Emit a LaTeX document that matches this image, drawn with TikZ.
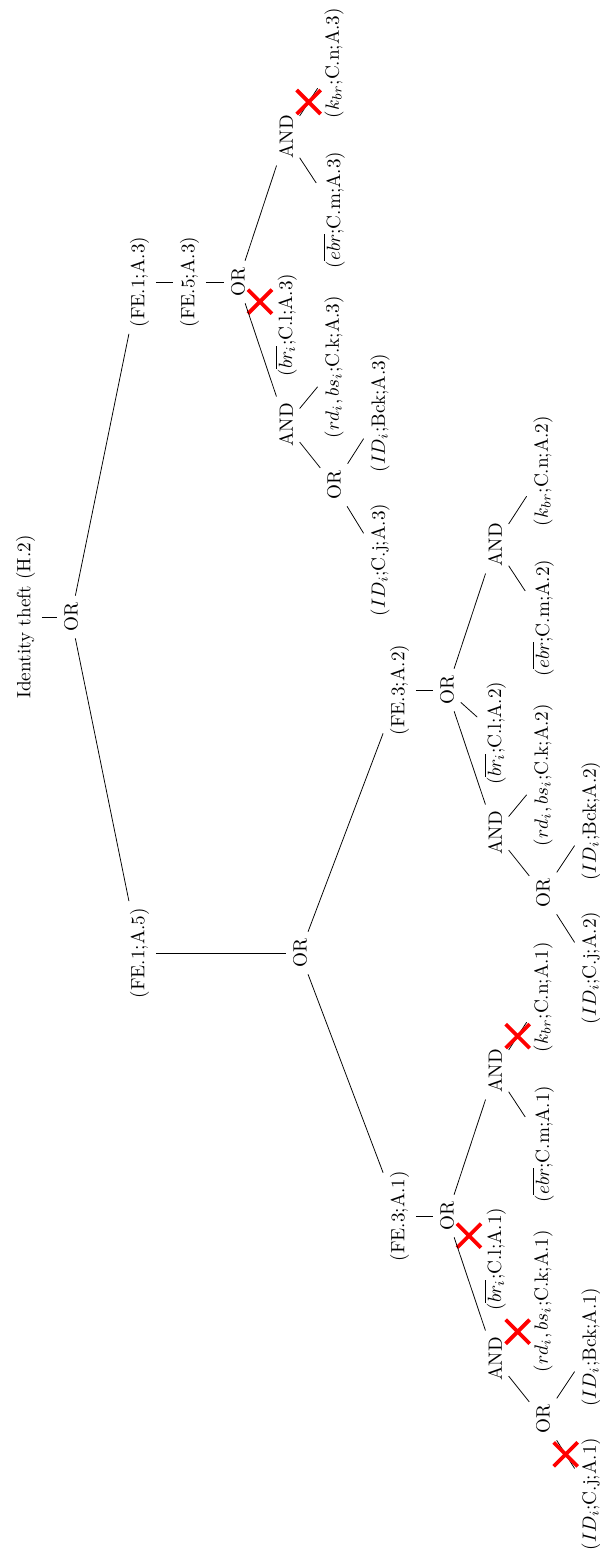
\documentclass[tikz,border=0pt]{standalone}
\usetikzlibrary{shapes.misc}

\begin{document}
\begin{tikzpicture}[x=0.5208pt, y=-0.5208pt,
		every node/.style={rotate=90},
		redcross/.style={draw=red, cross out, line width=2pt, minimum size=10.5pt, inner sep=0pt}]
		\useasboundingbox (0,0) rectangle (600,1553);
		\node (root) at (25.5,617) {Identity theft (H.2)};
		\node (or0) at (71,617) {OR};
		\node (fe1a3) at (139.5,282) {(FE.1;A.3)};
		\node (fe5a3) at (189.5,282) {(FE.5;A.3)};
		\node (or3) at (238,282) {OR};
		\node (and3a) at (286,137) {AND};
		\node (kbr3) at (334,63) {($k_{br}$;C.n;A.3)};
		\node (ebr3) at (334,210) {($\overline{ebr}$;C.m;A.3)};
		\node (br3) at (286,325) {($\overline{br_i}$;C.l;A.3)};
		\node (and3b) at (286,425) {AND};
		\node (rd3) at (334,367) {($rd_i,bs_i$;C.k;A.3)};
		\node (or3b) at (334,485) {OR};
		\node (bck3) at (380,413) {($ID_i$;Bck;A.3)};
		\node (cj3) at (380,560) {($ID_i$;C.j;A.3)};

		\node (fe1a5) at (139.5,953) {(FE.1;A.5)};
		\node (or5) at (300,953) {OR};

		\node (fe3a2) at (399.5,690) {(FE.3;A.2)};
		\node (or2) at (447,690) {OR};
		\node (and2a) at (495,545) {AND};
		\node (kbr2) at (543,471) {($k_{br}$;C.n;A.2)};
		\node (ebr2) at (543,618) {($\overline{ebr}$;C.m;A.2)};
		\node (br2) at (495,733) {($\overline{br_i}$;C.l;A.2)};
		\node (and2b) at (495,833) {AND};
		\node (rd2) at (543,775) {($rd_i,bs_i$;C.k;A.2)};
		\node (or2b) at (543,893) {OR};
		\node (bck2) at (591,821) {($ID_i$;Bck;A.2)};
		\node (cj2) at (591,968) {($ID_i$;C.j;A.2)};

		\node (fe3a1) at (399.5,1216) {(FE.3;A.1)};
		\node (or1) at (447,1216) {OR};
		\node (and1a) at (495,1071) {AND};
		\node (kbr1) at (543,997) {($k_{br}$;C.n;A.1)};
		\node (ebr1) at (543,1144) {($\overline{ebr}$;C.m;A.1)};
		\node (br1) at (495,1259) {($\overline{br_i}$;C.l;A.1)};
		\node (and1b) at (495,1359) {AND};
		\node (rd1) at (543,1301) {($rd_i,bs_i$;C.k;A.1)};
		\node (or1b) at (543,1419) {OR};
		\node (bck1) at (591,1347) {($ID_i$;Bck;A.1)};
		\node (cj1) at (591,1494) {($ID_i$;C.j;A.1)};

		\draw (root)--(or0);
		\draw (or0)--(fe1a3);
		\draw (or0)--(fe1a5);
		\draw (fe1a3)--(fe5a3);
		\draw (fe5a3)--(or3);
		\draw (or3)--(and3a);
		\draw (or3)--(br3) node [midway, redcross]{};
		\draw (or3)--(and3b);
		\draw (and3a)--(ebr3);
		\draw (and3a)--(kbr3) node [midway, redcross]{};
		\draw (and3b)--(rd3);
		\draw (and3b)--(or3b);
		\draw (or3b)--(bck3);
		\draw (or3b)--(cj3);

		\draw (fe1a5)--(or5);
		\draw (or5)--(fe3a2);
		\draw (or5)--(fe3a1);

		\draw (fe3a2)--(or2);
		\draw (or2)--(and2a);
		\draw (or2)--(br2);
		\draw (or2)--(and2b);
		\draw (and2a)--(ebr2);
		\draw (and2a)--(kbr2);
		\draw (and2b)--(rd2);
		\draw (and2b)--(or2b);
		\draw (or2b)--(bck2);
		\draw (or2b)--(cj2);

		\draw (fe3a1)--(or1);
		\draw (or1)--(and1a);
		\draw (or1)--(br1) node [midway, redcross]{};
		\draw (or1)--(and1b);
		\draw (and1a)--(ebr1);
		\draw (and1a)--(kbr1) node [midway, redcross]{};
		\draw (and1b)--(rd1) node [midway, redcross]{};
		\draw (and1b)--(or1b);
		\draw (or1b)--(bck1);
		\draw (or1b)--(cj1) node [midway, redcross]{};
	\end{tikzpicture}
\end{document}
